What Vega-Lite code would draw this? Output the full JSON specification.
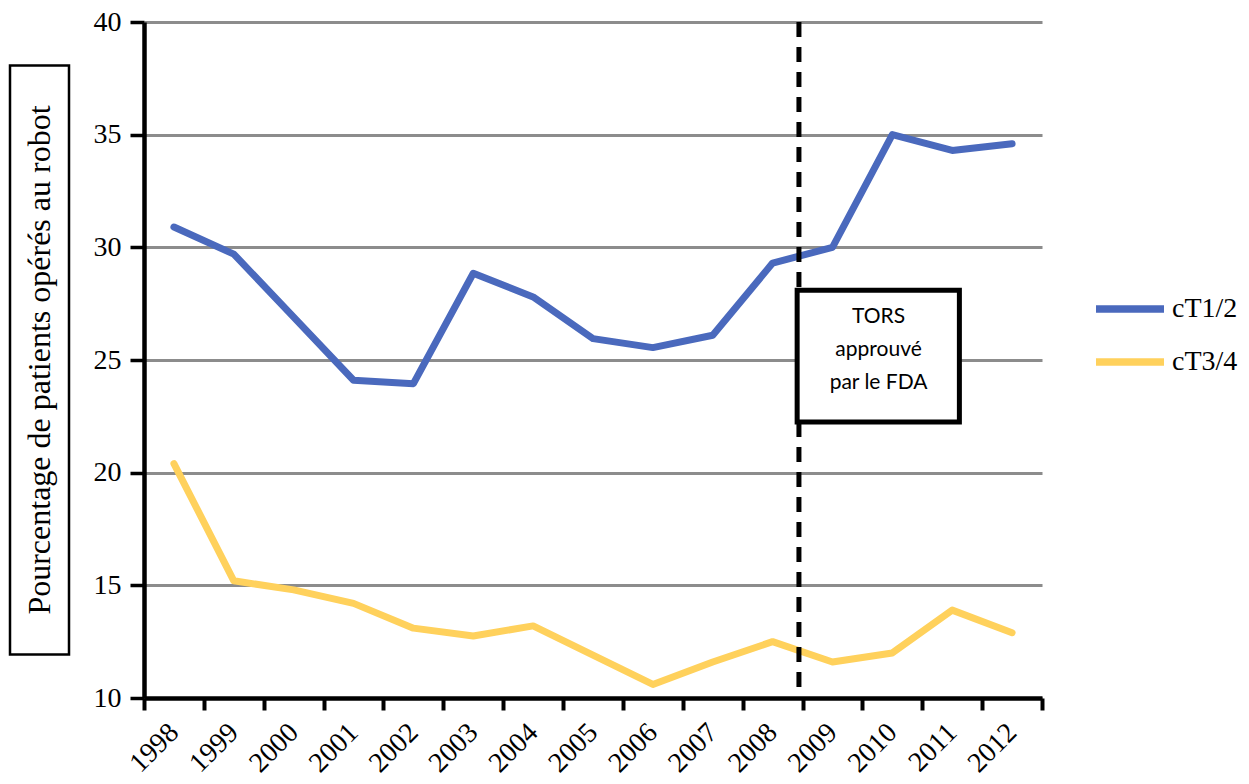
{
  "$schema": "https://vega.github.io/schema/vega-lite/v6.json",
  "padding": {"left": 8, "top": 8, "right": 2, "bottom": 2},
  "background": "white",
  "bounds": "flush",
  "center": true,
  "spacing": 75,
  "config": {
    "view": {"stroke": null},
    "font": "Liberation Serif",
    "axis": {"labelFont": "Liberation Serif", "labelFontSize": 28, "labelColor": "black", "domainColor": "black", "tickColor": "black", "titleFont": "Liberation Serif"},
    "legend": {"labelFont": "Liberation Serif"}
  },
  "hconcat": [
    {
      "width": 59,
      "height": 589,
      "view": {"stroke": "black", "strokeWidth": 2.5, "fill": "white"},
      "data": {"values": [{"label": "Pourcentage de patients opérés au robot"}]},
      "mark": {"type": "text", "angle": 270, "font": "Liberation Serif", "fontSize": 32, "color": "black", "baseline": "middle", "align": "center"},
      "encoding": {"text": {"field": "label", "type": "nominal"}}
    },
    {
      "width": 898,
      "height": 676,
      "resolve": {"scale": {"x": "independent"}},
      "layer": [
        {
          "data": {"values": [
            {"year": "1998", "series": "cT1/2", "value": 30.9},
            {"year": "1999", "series": "cT1/2", "value": 29.7},
            {"year": "2000", "series": "cT1/2", "value": 26.9},
            {"year": "2001", "series": "cT1/2", "value": 24.1},
            {"year": "2002", "series": "cT1/2", "value": 23.95},
            {"year": "2003", "series": "cT1/2", "value": 28.85},
            {"year": "2004", "series": "cT1/2", "value": 27.8},
            {"year": "2005", "series": "cT1/2", "value": 25.95},
            {"year": "2006", "series": "cT1/2", "value": 25.55},
            {"year": "2007", "series": "cT1/2", "value": 26.1},
            {"year": "2008", "series": "cT1/2", "value": 29.3},
            {"year": "2009", "series": "cT1/2", "value": 30.0},
            {"year": "2010", "series": "cT1/2", "value": 35.0},
            {"year": "2011", "series": "cT1/2", "value": 34.3},
            {"year": "2012", "series": "cT1/2", "value": 34.6},
            {"year": "1998", "series": "cT3/4", "value": 20.4},
            {"year": "1999", "series": "cT3/4", "value": 15.2},
            {"year": "2000", "series": "cT3/4", "value": 14.8},
            {"year": "2001", "series": "cT3/4", "value": 14.2},
            {"year": "2002", "series": "cT3/4", "value": 13.1},
            {"year": "2003", "series": "cT3/4", "value": 12.75},
            {"year": "2004", "series": "cT3/4", "value": 13.2},
            {"year": "2005", "series": "cT3/4", "value": 11.9},
            {"year": "2006", "series": "cT3/4", "value": 10.6},
            {"year": "2007", "series": "cT3/4", "value": 11.6},
            {"year": "2008", "series": "cT3/4", "value": 12.5},
            {"year": "2009", "series": "cT3/4", "value": 11.6},
            {"year": "2010", "series": "cT3/4", "value": 12.0},
            {"year": "2011", "series": "cT3/4", "value": 13.9},
            {"year": "2012", "series": "cT3/4", "value": 12.9}
          ]},
          "mark": {"type": "line", "strokeWidth": 7, "strokeCap": "round", "strokeJoin": "round"},
          "encoding": {
            "x": {
              "field": "year", "type": "ordinal", "title": null,
              "scale": {"type": "band", "paddingInner": 0, "paddingOuter": 0},
              "axis": {"tickBand": "extent", "labelAngle": -45, "labelAlign": "right", "labelBaseline": "middle", "tickSize": 12, "tickWidth": 4, "domainWidth": 4.5, "labelPadding": 18, "grid": false}
            },
            "y": {
              "field": "value", "type": "quantitative", "title": null,
              "scale": {"domain": [10, 40], "nice": false, "zero": false},
              "axis": {"values": [10, 15, 20, 25, 30, 35, 40], "grid": true, "gridColor": "#8c8c8c", "gridWidth": 3, "tickSize": 14, "tickWidth": 3.5, "domainWidth": 4.5, "labelPadding": 9}
            },
            "color": {
              "field": "series", "type": "nominal",
              "scale": {"domain": ["cT1/2", "cT3/4"], "range": ["#4A69BD", "#FFD15C"]},
              "legend": {"title": null, "orient": "none", "legendX": 1082, "legendY": 249, "symbolType": "stroke", "symbolSize": 4624, "symbolStrokeWidth": 7.5, "labelFontSize": 28, "labelColor": "black", "labelOffset": 4, "rowPadding": -9}
            }
          }
        },
        {
          "data": {"values": [{}]},
          "layer": [
            {
              "mark": {"type": "rule", "strokeDash": [15, 10], "strokeWidth": 5, "color": "black"},
              "encoding": {
                "x": {"datum": 2008.44, "type": "quantitative", "scale": {"domain": [1997.5, 2012.5], "nice": false, "zero": false}, "axis": null}
              }
            },
            {
              "mark": {"type": "rect", "fill": "white", "stroke": "black", "strokeWidth": 5},
              "encoding": {
                "x": {"datum": 2008.41, "type": "quantitative", "scale": {"domain": [1997.5, 2012.5], "nice": false, "zero": false}, "axis": null},
                "x2": {"datum": 2011.12},
                "y": {"datum": 28.1, "type": "quantitative", "scale": {"domain": [10, 40], "nice": false, "zero": false}},
                "y2": {"datum": 22.25}
              }
            },
            {
              "mark": {"type": "text", "font": "Lato", "fontSize": 21, "lineHeight": 33, "color": "black", "align": "center", "baseline": "middle"},
              "encoding": {
                "x": {"datum": 2009.77, "type": "quantitative", "scale": {"domain": [1997.5, 2012.5], "nice": false, "zero": false}, "axis": null},
                "y": {"datum": 26.93, "type": "quantitative", "scale": {"domain": [10, 40], "nice": false, "zero": false}},
                "text": {"value": ["TORS", "approuvé", "par le FDA"]}
              }
            }
          ]
        }
      ]
    }
  ]
}
